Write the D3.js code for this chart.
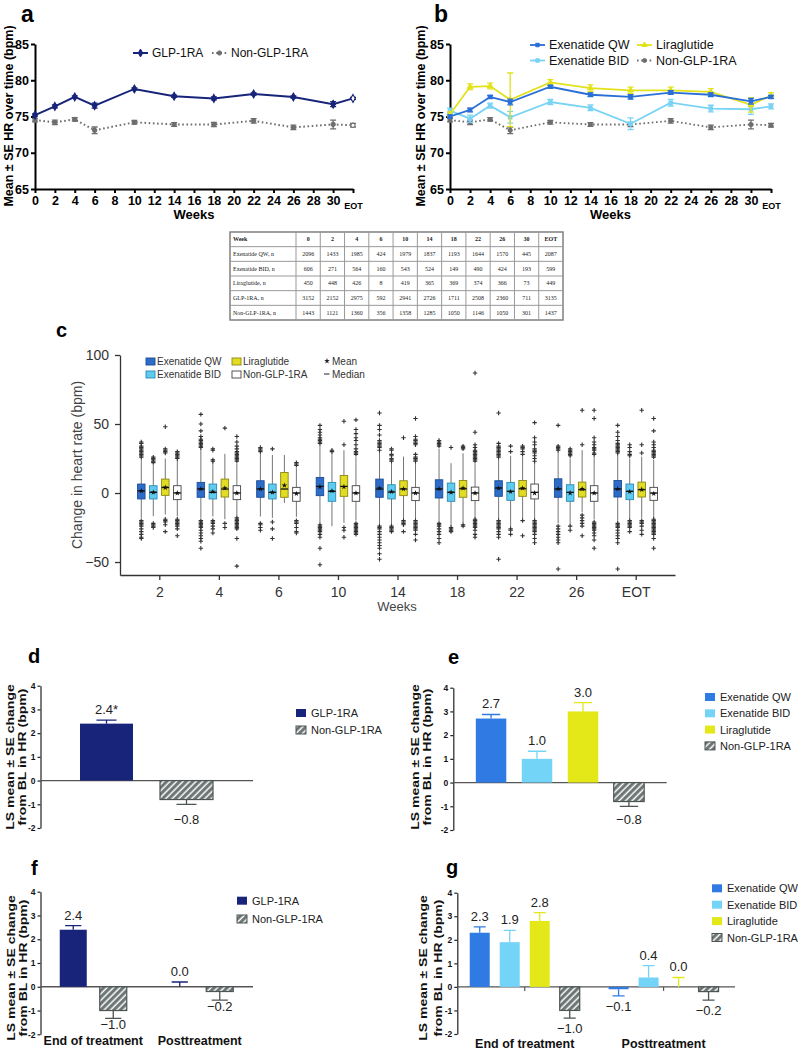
<!DOCTYPE html>
<html><head><meta charset="utf-8">
<script src="https://cdn.jsdelivr.net/npm/d3@7"></script>
<style>body{margin:0;background:#fff}svg{display:block}</style>
</head><body>
<svg id="chart" width="798" height="1051"></svg>
<script>
// ================= DATA =================
// Panels a & b : mean HR over time
const weekLabels = ["0","2","4","6","10","14","18","22","26","30","EOT"];
const glpMean  = [75.2,76.4,77.7,76.5,78.8,77.8,77.5,78.1,77.7,76.7,77.5];
const glpSE    = [0.15,0.2,0.15,0.35,0.15,0.15,0.2,0.15,0.15,0.35,0.15];
const nonMean  = [74.5,74.2,74.6,73.1,74.2,73.9,73.9,74.4,73.5,73.9,73.8];
const nonSE    = [0.25,0.3,0.25,0.45,0.25,0.25,0.3,0.3,0.3,0.6,0.25];
const qwMean   = [75.0,75.9,77.7,77.0,79.1,78.0,77.7,78.3,78.0,77.1,77.7];
const qwSE     = [0.2,0.25,0.2,0.4,0.2,0.25,0.3,0.25,0.25,0.4,0.2];
const bidMean  = [75.8,74.7,76.5,74.9,77.0,76.2,74.0,76.9,76.1,76.0,76.4];
const bidSE    = [0.35,0.5,0.35,0.8,0.35,0.4,0.8,0.45,0.45,0.7,0.35];
const liraMean = [75.3,79.1,79.2,77.3,79.7,78.9,78.6,78.6,78.4,76.6,77.9];
const liraSE   = [0.35,0.4,0.4,3.7,0.4,0.45,0.45,0.45,0.45,1.0,0.4];

// Table of n
const tableHeader = ["Week","0","2","4","6","10","14","18","22","26","30","EOT"];
const tableRowNames = ["Exenatide QW, n","Exenatide BID, n","Liraglutide, n","GLP-1RA, n","Non-GLP-1RA, n"];
const nQW   = [2096,1433,1985,424,1979,1837,1193,1644,1570,445,2087];
const nBID  = [606,271,564,160,543,524,149,490,424,193,599];
const nLira = [450,448,426,8,419,365,369,374,366,73,449];
const nGLP  = [3152,2152,2975,592,2941,2726,1711,2508,2360,711,3135];
const nNon  = [1443,1121,1360,356,1358,1285,1050,1146,1050,301,1437];

// Panel c : box plots  [lowWhisker, q1, median, q3, highWhisker, mean]
const boxWeeks  = ["2","4","6","10","14","18","22","26","EOT"];
const boxGroups = ["Exenatide QW","Exenatide BID","Liraglutide","Non-GLP-1RA"];
const boxQW = [[-18,-4.3,1.5,6.5,25,1.5],[-18,-3.1,2.9,7.7,32,3],[-17,-3.1,2.9,8.9,29,3],[-21.6,-1.9,4.8,11.3,35,4.5],
  [-23,-3.1,2.9,10.1,30,3.5],[-20.4,-3.6,2.9,9.6,32,3],[-19,-2.4,3.6,8.9,25,3.5],[-22,-3.1,2.9,10.3,30,3],[-21,-2.9,2.9,9.1,28,3]];
const outQW = [
  [26,27,28,29,30,31,32,33,34,36,37,-20,-21,-22,-23,-24,-26,-28,-30,-32,-33],
  [33,34,35,36,37,38,39,41,45,50,57,-20,-21,-22,-23,-24,-25,-27,-29,-31,-33,-35,-40],
  [30,31,32,33,-22,-23,-25,-27],
  [36,37,38,39,40,42,44,46,49,-23,-24,-25,-26,-27,-28,-30,-32,-40,-52],
  [31,33,34,35,36,37,38,42,46,49,58,-24,-25,-26,-28,-30,-32,-34,-36,-38,-40,-44,-48],
  [34,35,36,37,38,-22,-23,-24,-26,-28,-30,-33,-36],
  [26,27,28,29,30,31,32,33,34,36,58,-20,-21,-22,-23,-24,-25,-26,-28,-30,-32,-48],
  [31,32,33,34,49,-24,-26,-28,-30,-32,-34,-36,-55],
  [29,30,31,32,33,34,35,36,38,41,44,49,-22,-23,-24,-25,-27,-29,-31,-33,-36,-55]];
const boxBID = [[-16.8,-4.3,0.5,5.3,20.4,0.5],[-17,-4.3,0.5,6.5,22.8,1],[-18,-4.3,0.5,6.5,27.6,0.5],[-24,-6,1.2,7.7,29,1.5],
  [-23,-4.3,0.7,6,21.6,1],[-24,-6,0.5,7.2,21.6,0.5],[-25,-5.3,1.2,7.7,27,1],[-23,-6,0.5,6,25,0],[-19,-4.8,1.2,6.5,25,1]];
const outBID = [
  [22,23,24,25,26,-22,-23,-24,-25],
  [23,24,31,32,-20,-21,-22,-24,-26,-29],
  [32,-21,-26,-33],
  [30,31],
  [23,24,25,27,28,31,32,-24,-25,-26,-27,-28],
  [33,-25,-26,-27,-28],
  [30,34,-26,-27,-30],
  [27,28,29,30,31,32,-24,-27],
  [27,28,30,33,35,-20,-21,-22,-23,-24,-25,-28]];
const boxLira = [[-15.6,-1.7,4,10.1,25,4],[-19,-2.9,2.9,10.1,28.4,3.5],[-7.2,-3.1,2.9,14.9,27.6,5.5],[-21.6,-2.4,4.8,12.7,31,4.5],
  [-19,-1.9,2.9,8.9,26.4,3],[-21.6,-3.1,3.1,9.1,28.8,3.5],[-19,-2.4,3.1,9.1,26.4,3.5],[-14,-2.9,2.4,7.9,31,3],[-18,-2.9,2.4,7.9,26.4,2.5]];
const outLira = [
  [29,30,31,32,48,-19,-20,-21,-23,-28],
  [47,-22,-25],
  [],
  [35,52,-25,-27,-32],
  [40,-20,-21,-22,-23,-28],
  [32,33,34,-23,-24],
  [28,30,32,33,34,-20,-31],
  [35,60,-16,-18,-20,-22,-24,-31],
  [29,35,60,-20,-21,-22,-24,-27,-30]];
const boxNon = [[-17,-4.8,0,5.3,24,0],[-17,-4.8,0,5.3,21,0],[-17.3,-6,0,4.1,18,-0.5],[-20,-6,0,5.3,26,0],
  [-19,-5.5,0,4.1,22,0],[-18,-5.5,0,4.3,21,0],[-20,-4.3,0.5,6.5,22,0],[-19,-6,0,5.3,27,0],[-18,-5.3,0,4.1,24,-0.5]];
const outNon = [
  [25,26,27,28,29,30,-19,-20,-21,-22,-23,-24,-26,-31],
  [23,24,25,26,27,28,29,30,32,34,37,41,-18,-19,-20,-21,-22,-23,-24,-25,-26,-33,-53],
  [20,21,22,-20,-21,-22,-25,-28,-29],
  [28,29,30,32,35,38,40,43,46,53,-22,-23,-24,-25,-26,-27,-28,-29,-30],
  [23,24,25,26,28,35,36,37,38,39,41,54,-20,-21,-22,-23,-24,-25,-26,-27,-30,-34],
  [23,24,25,26,27,28,29,30,31,33,35,44,87,-19,-20,-21,-22,-23,-24,-25,-27,-30,-32],
  [23,25,27,29,30,31,32,35,37,40,51,-20,-21,-22,-23,-24,-25,-26,-27,-28,-30,-33,-36],
  [28,29,31,32,33,35,37,40,54,60,-21,-22,-23,-24,-25,-26,-27,-29,-31,-34,-40],
  [26,27,28,29,30,31,33,35,37,45,54,-19,-20,-21,-22,-23,-24,-25,-26,-27,-28,-29,-30,-33,-40]];

// Panel d
const dCats = ["GLP-1RA","Non-GLP-1RA"];
const dVals = [2.4,-0.8];
const dSE   = [0.15,0.2];
const dLabels = ["2.4*","\u22120.8"];
// Panel e
const eCats = ["Exenatide QW","Exenatide BID","Liraglutide","Non-GLP-1RA"];
const eVals = [2.7,1.0,3.0,-0.8];
const eSE   = [0.17,0.32,0.37,0.2];
const eLabels = ["2.7","1.0","3.0","\u22120.8"];
// Panel f
const periods = ["End of treatment","Posttreatment"];
const fCats = ["GLP-1RA","Non-GLP-1RA"];
const fVals = [[2.4,-1.0],[0.0,-0.2]];
const fSE   = [[0.17,0.33],[0.2,0.36]];
const fLabels = [["2.4","\u22121.0"],["0.0","\u22120.2"]];
// Panel g
const gCats = ["Exenatide QW","Exenatide BID","Liraglutide","Non-GLP-1RA"];
const gVals = [[2.3,1.9,2.8,-1.0],[-0.1,0.4,0.0,-0.2]];
const gSE   = [[0.25,0.5,0.35,0.33],[0.28,0.5,0.4,0.36]];
const gLabels = [["2.3","1.9","2.8","\u22121.0"],["\u22120.1","0.4","0.0","\u22120.2"]];

// ================= STYLE =================
const SANS = "'Liberation Sans', Arial, Helvetica, sans-serif";
const SERIF = "'Liberation Serif', 'Times New Roman', serif";
const C = {
  navy:"#17247a", qw:"#2f7be3", bid:"#74d4f8", lira:"#e4e818", non:"#6b7373", nonDark:"#4c5454",
  qwLine:"#2a6fd8", bidLine:"#7ad3f4", liraLine:"#e2e21c", nonLine:"#6e6e6e",
  boxQW:"#2d6cc8", boxBID:"#5ecbf0", boxLira:"#e2dc22", boxNon:"#ffffff"
};
const svg = d3.select("#chart").attr("font-family", SANS);

const defs = svg.append("defs");
const pat = defs.append("pattern").attr("id","hatch").attr("patternUnits","userSpaceOnUse")
  .attr("width",4.6).attr("height",4.6).attr("patternTransform","rotate(45)");
pat.append("rect").attr("width",4.6).attr("height",4.6).attr("fill",C.non);
pat.append("line").attr("x1",1.2).attr("x2",1.2).attr("y1",0).attr("y2",4.6).attr("stroke","#fff").attr("stroke-width",1.5);

function styleAxis(sel, o){
  o = Object.assign({stroke:"#000", sw:2, fs:12, fw:"bold", fill:"#000"}, o||{});
  sel.attr("font-family",null).attr("font-size",null);
  sel.selectAll("path.domain").attr("stroke",o.stroke).attr("stroke-width",o.sw);
  sel.selectAll(".tick line").attr("stroke",o.stroke).attr("stroke-width",o.sw);
  sel.selectAll(".tick text").attr("font-size",o.fs).attr("font-weight",o.fw).attr("fill",o.fill).attr("font-family",SANS);
}
function label(txt, x, y, size){
  svg.append("text").attr("x",x).attr("y",y).attr("font-size",size).attr("font-weight","bold").text(txt);
}
const weekNum = w => w==="EOT" ? 32 : +w;

// ================= PANELS a & b =================
function lineChart(cfg){
  const x = d3.scaleLinear().domain([0,32]).range(cfg.xr);
  const y = d3.scaleLinear().domain([65,85]).range([189,44]);
  const g = svg.append("g");
  const xAx = g.append("g").attr("transform",`translate(0,${y(65)})`)
    .call(d3.axisBottom(x).tickValues(d3.range(0,33,2)).tickSize(4).tickSizeOuter(0).tickPadding(3)
      .tickFormat(d => d===32 ? "EOT" : d));
  styleAxis(xAx,{fs:12.5});
  xAx.selectAll(".tick text").filter(d=>d===32).attr("font-size",9).attr("dy","1.4em");
  const yAx = g.append("g").attr("transform",`translate(${cfg.xr[0]},0)`)
    .call(d3.axisLeft(y).tickValues([65,70,75,80,85]).tickSize(4).tickSizeOuter(0).tickPadding(2));
  styleAxis(yAx,{fs:12.5});
  g.append("text").attr("x",(cfg.xr[0]+cfg.xr[1])/2).attr("y",219).attr("text-anchor","middle")
    .attr("font-size",13).attr("font-weight","bold").text("Weeks");
  g.append("text").attr("transform",`translate(${cfg.ylx},116) rotate(-90)`).attr("text-anchor","middle")
    .attr("font-size",12.5).attr("font-weight","bold").text("Mean \u00B1 SE HR over time (bpm)");

  cfg.series.forEach(s => {
    const pts = s.mean.map((m,i) => ({x:weekNum(weekLabels[i]), m, se:s.se[i], last:i===s.mean.length-1}));
    g.append("path").datum(pts).attr("d", d3.line().x(d=>x(d.x)).y(d=>y(d.m)))
      .attr("fill","none").attr("stroke",s.color).attr("stroke-width",s.sw).attr("stroke-dasharray",s.dash||null);
    g.selectAll(null).data(pts).join("path")
      .attr("d", d => `M${x(d.x)},${y(d.m-d.se)}V${y(d.m+d.se)}M${x(d.x)-3},${y(d.m-d.se)}h6M${x(d.x)-3},${y(d.m+d.se)}h6`)
      .attr("stroke",s.color).attr("stroke-width",1.3).attr("fill","none");
    g.selectAll(null).data(pts).join("path")
      .attr("transform", d => `translate(${x(d.x)},${y(d.m)})`)
      .attr("d", d3.symbol(s.sym, s.size))
      .attr("fill", d => (d.last && s.openLast) ? "#fff" : s.color)
      .attr("stroke", s.color).attr("stroke-width",1.1);
  });
  cfg.legend.forEach(l => {
    const s = l.s;
    g.append("line").attr("x1",l.x).attr("x2",l.x+15).attr("y1",l.y).attr("y2",l.y)
      .attr("stroke",s.color).attr("stroke-width",s.sw).attr("stroke-dasharray",s.dash||null);
    g.append("path").attr("transform",`translate(${l.x+7.5},${l.y})`).attr("d",d3.symbol(s.sym,s.size))
      .attr("fill",s.color).attr("stroke",s.color);
    g.append("text").attr("x",l.x+19).attr("y",l.y+4.3).attr("font-size",l.fs).attr("fill","#111").text(s.name);
  });
}

const sGLP  = {name:"GLP-1RA", mean:glpMean, se:glpSE, color:C.navy, sw:2, sym:d3.symbolDiamond, size:18, openLast:true};
const sNonA = {name:"Non-GLP-1RA", mean:nonMean, se:nonSE, color:C.nonLine, sw:2, dash:"1.6,2.6", sym:d3.symbolCircle, size:14, openLast:true};
lineChart({xr:[35,353], ylx:13, series:[sNonA, sGLP],
  legend:[{s:sGLP,x:133,y:53,fs:12},{s:sNonA,x:212,y:53,fs:12}]});

const sQW   = {name:"Exenatide QW", mean:qwMean, se:qwSE, color:C.qwLine, sw:1.8, sym:d3.symbolSquare, size:12};
const sBID  = {name:"Exenatide BID", mean:bidMean, se:bidSE, color:C.bidLine, sw:1.8, sym:d3.symbolSquare, size:12};
const sLira = {name:"Liraglutide", mean:liraMean, se:liraSE, color:C.liraLine, sw:1.8, sym:d3.symbolTriangle, size:12};
const sNonB = {name:"Non-GLP-1RA", mean:nonMean, se:nonSE, color:C.nonLine, sw:1.8, dash:"1.6,2.6", sym:d3.symbolCircle, size:12};
lineChart({xr:[450,771], ylx:425, series:[sNonB, sBID, sLira, sQW],
  legend:[{s:sQW,x:530,y:45,fs:12.5},{s:sLira,x:637,y:45,fs:12.5},{s:sBID,x:530,y:60.5,fs:12.5},{s:sNonB,x:637,y:60.5,fs:12.5}]});

label("a", 21, 22, 23);
label("b", 434, 22, 23);

// ================= TABLE =================
(function(){
  const x0=230, x1=563, y0=232, y1=320, firstW=66;
  const rows = [tableHeader.slice(1), nQW, nBID, nLira, nGLP, nNon];
  const names = [tableHeader[0]].concat(tableRowNames);
  const cx = d3.scaleBand().domain(d3.range(11)).range([x0+firstW, x1]);
  const ry = d3.scaleBand().domain(d3.range(6)).range([y0, y1]);
  const g = svg.append("g").attr("font-family",SERIF).attr("font-size",6).attr("fill","#222");
  g.append("rect").attr("x",x0).attr("y",y0).attr("width",x1-x0).attr("height",y1-y0)
    .attr("fill","#fff").attr("stroke","#777").attr("stroke-width",1.4);
  d3.range(1,6).forEach(i => g.append("line").attr("x1",x0).attr("x2",x1).attr("y1",ry(i)).attr("y2",ry(i))
    .attr("stroke","#999").attr("stroke-width",1));
  d3.range(0,11).forEach(i => g.append("line").attr("x1",cx(i)).attr("x2",cx(i)).attr("y1",y0).attr("y2",y1)
    .attr("stroke","#999").attr("stroke-width",1));
  names.forEach((n,r) => g.append("text").attr("x",x0+3).attr("y",ry(r)+ry.bandwidth()/2+2)
    .attr("font-weight", r===0 ? "bold" : null).text(n));
  rows.forEach((vals,r) => vals.forEach((v,i) => g.append("text")
    .attr("x",cx(i)+cx.bandwidth()/2).attr("y",ry(r)+ry.bandwidth()/2+2).attr("text-anchor","middle")
    .attr("font-weight", r===0 ? "bold" : null).text(v)));
})();

// ================= PANEL c =================
(function(){
  const xw = d3.scalePoint().domain(boxWeeks).range([120,675]).padding(0.66);
  const xg = d3.scaleBand().domain(boxGroups).range([-24,24]);
  const y = d3.scaleLinear().domain([-59.4,100]).range([575,355]);
  const g = svg.append("g");
  const xAx = g.append("g").attr("transform","translate(0,575)")
    .call(d3.axisBottom(xw).tickSize(5).tickSizeOuter(0).tickPadding(7));
  styleAxis(xAx,{stroke:"#333", sw:1.3, fs:14, fw:"normal", fill:"#333"});
  const yAx = g.append("g").attr("transform","translate(120,0)")
    .call(d3.axisLeft(y).tickValues([-50,0,50,100]).tickSize(5).tickSizeOuter(0).tickPadding(6)
      .tickFormat(d => d<0 ? "\u2212"+Math.abs(d) : d));
  styleAxis(yAx,{stroke:"#333", sw:1.3, fs:14, fw:"normal", fill:"#333"});
  g.append("text").attr("x",397).attr("y",611).attr("text-anchor","middle").attr("font-size",13).attr("fill","#444").text("Weeks");
  g.append("text").attr("transform","translate(82,465) rotate(-90)").attr("text-anchor","middle")
    .attr("font-size",14).attr("fill","#444").text("Change in heart rate (bpm)");

  const groups = [
    {name:boxGroups[0], st:boxQW, out:outQW, fill:C.boxQW, stroke:"#1d4d96"},
    {name:boxGroups[1], st:boxBID, out:outBID, fill:C.boxBID, stroke:"#2c8bb3"},
    {name:boxGroups[2], st:boxLira, out:outLira, fill:C.boxLira, stroke:"#8a8714"},
    {name:boxGroups[3], st:boxNon, out:outNon, fill:C.boxNon, stroke:"#444"}];
  const bw = 7.5;
  const plus = "M-2.2,0H2.2M0,-2.2V2.2";
  groups.forEach(gr => {
    boxWeeks.forEach((w,i) => {
      const cx = xw(w) + xg(gr.name) + xg.bandwidth()/2;
      const [lo,q1,med,q3,hi,mean] = gr.st[i];
      g.append("line").attr("x1",cx).attr("x2",cx).attr("y1",y(hi)).attr("y2",y(lo)).attr("stroke","#666").attr("stroke-width",0.9);
      g.append("rect").attr("x",cx-bw/2).attr("y",y(q3)).attr("width",bw).attr("height",y(q1)-y(q3))
        .attr("fill",gr.fill).attr("stroke",gr.stroke).attr("stroke-width",0.9);
      g.append("line").attr("x1",cx-bw/2).attr("x2",cx+bw/2).attr("y1",y(med)).attr("y2",y(med)).attr("stroke","#111").attr("stroke-width",1.3);
      g.append("path").attr("transform",`translate(${cx},${y(mean)})`).attr("d",d3.symbol(d3.symbolStar,10)).attr("fill","#111");
      gr.out[i].forEach(v => g.append("path").attr("transform",`translate(${cx},${y(v)})`).attr("d",plus)
        .attr("stroke","#333").attr("stroke-width",1.1));
    });
  });
  // legend
  const leg = [
    {name:boxGroups[0], fill:C.boxQW, stroke:"#1d4d96", x:146, y:358},
    {name:boxGroups[2], fill:C.boxLira, stroke:"#8a8714", x:232, y:358},
    {name:boxGroups[1], fill:C.boxBID, stroke:"#2c8bb3", x:146, y:371},
    {name:boxGroups[3], fill:"#fff", stroke:"#444", x:232, y:371}];
  leg.forEach(l => {
    g.append("rect").attr("x",l.x).attr("y",l.y).attr("width",9).attr("height",7).attr("fill",l.fill).attr("stroke",l.stroke).attr("stroke-width",0.9);
    g.append("text").attr("x",l.x+11).attr("y",l.y+7).attr("font-size",10).attr("fill","#333").text(l.name);
  });
  g.append("path").attr("transform","translate(327,361)").attr("d",d3.symbol(d3.symbolStar,10)).attr("fill","#222");
  g.append("text").attr("x",332).attr("y",365).attr("font-size",10).attr("fill","#333").text("Mean");
  g.append("line").attr("x1",324).attr("x2",329.5).attr("y1",374).attr("y2",374).attr("stroke","#222").attr("stroke-width",1);
  g.append("text").attr("x",332).attr("y",378).attr("font-size",10).attr("fill","#333").text("Median");
})();
label("c", 56, 337, 20);

// ================= BAR PANELS =================
const fillOf = n => n==="GLP-1RA" ? C.navy : n==="Exenatide QW" ? C.qw : n==="Exenatide BID" ? C.bid :
  n==="Liraglutide" ? C.lira : "url(#hatch)";
const lineOf = n => n==="Non-GLP-1RA" ? C.nonDark : fillOf(n);

function barFrame(o){
  const y = d3.scaleLinear().domain([-2,4]).range([o.yb,o.yt]);
  const g = svg.append("g");
  const yAx = g.append("g").attr("transform",`translate(${o.ax},0)`)
    .call(d3.axisLeft(y).tickValues(d3.range(-2,5)).tickSize(3).tickSizeOuter(0).tickPadding(2)
      .tickFormat(d => String(d)));
  styleAxis(yAx,{stroke:"#222", sw:1.2, fs:8.5, fw:"bold", fill:"#111"});
  g.append("line").attr("x1",o.ax).attr("x2",o.xe).attr("y1",y(0)).attr("y2",y(0)).attr("stroke","#555").attr("stroke-width",1.3);
  [["LS mean \u00B1 SE change", o.l1], ["from BL in HR (bpm)", o.l2]].forEach(([t,bx]) =>
    g.append("text").attr("transform",`translate(${bx},${o.lc}) rotate(-90) scale(1.22,1)`).attr("text-anchor","middle")
      .attr("font-size",11.5).attr("font-weight","bold").attr("fill","#111").text(t));
  return {g,y};
}
function drawBar(g, y, name, x0, w, v, se, lab, negOff){
  const top = Math.min(y(v), y(0)), h = Math.abs(y(v)-y(0));
  if (h>0.3) g.append("rect").attr("x",x0).attr("y",top).attr("width",w).attr("height",h)
    .attr("fill",fillOf(name)).attr("stroke", name==="Non-GLP-1RA" ? C.nonDark : "none").attr("stroke-width",1.2);
  const cx = x0 + w/2, end = v>=0 ? v+se : v-se, cw = Math.min(w*0.6, 20);
  g.append("path").attr("d",`M${cx},${y(v)}V${y(end)}M${cx-cw/2},${y(end)}h${cw}`)
    .attr("stroke",lineOf(name)).attr("stroke-width",1.3).attr("fill","none");
  g.append("text").attr("x",cx).attr("y", v>=0 ? y(end)-6 : y(end)+negOff).attr("text-anchor","middle")
    .attr("font-size",13).attr("fill","#222").text(lab);
}
function legendBox(g, names, x, y0, dy){
  names.forEach((n,i) => {
    g.append("rect").attr("x",x).attr("y",y0+i*dy-4).attr("width",10).attr("height",8)
      .attr("fill",fillOf(n)).attr("stroke", n==="Non-GLP-1RA" ? C.nonDark : "none").attr("stroke-width",1);
    g.append("text").attr("x",x+15).attr("y",y0+i*dy+4).attr("font-size",11).attr("fill","#222").text(n);
  });
}

// d
(function(){
  const {g,y} = barFrame({ax:40.5, xe:253, yt:685.7, yb:828, l1:13.5, l2:25.5, lc:757});
  const x = d3.scaleBand().domain(dCats).range([40,253]).paddingInner(0.3375).paddingOuter(0.5);
  dCats.forEach((c,i) => drawBar(g, y, c, x(c), x.bandwidth(), dVals[i], dSE[i], dLabels[i], 20));
  legendBox(g, dCats, 296, 713, 17);
})();
label("d", 28, 663, 20);

// e
(function(){
  const {g,y} = barFrame({ax:453.3, xe:666.7, yt:687.7, yb:830, l1:418.5, l2:430.5, lc:757});
  const x = d3.scaleBand().domain(eCats).range([453.3,666.7]).paddingInner(0.337).paddingOuter(0.49);
  eCats.forEach((c,i) => drawBar(g, y, c, x(c), x.bandwidth(), eVals[i], eSE[i], eLabels[i], 18));
  legendBox(g, eCats, 705, 697, 16.3);
})();
label("e", 448, 664, 20);

// f
(function(){
  const {g,y} = barFrame({ax:40.5, xe:253, yt:891.7, yb:1034.3, l1:15, l2:27, lc:968});
  const xp = d3.scaleBand().domain(periods).range([40,253]);
  const xs = d3.scaleBand().domain(fCats).range([-33.5,33.5]).paddingInner(0.325);
  periods.forEach((p,pi) => {
    const c0 = xp(p) + xp.bandwidth()/2;
    fCats.forEach((c,i) => drawBar(g, y, c, c0+xs(c), xs.bandwidth(), fVals[pi][i], fSE[pi][i], fLabels[pi][i], 11));
    g.append("text").attr("x",c0).attr("y",1045).attr("text-anchor","middle").attr("font-size",12.5)
      .attr("font-weight","bold").attr("fill","#111").text(p);
  });
  legendBox(g, fCats, 237, 900.7, 18.3);
})();
label("f", 31, 875, 20);

// g
(function(){
  const {g,y} = barFrame({ax:457.3, xe:735, yt:892.7, yb:1034, l1:427, l2:442, lc:968});
  const xp = d3.scaleBand().domain(periods).range([457.3,735]);
  const xs = d3.scaleBand().domain(gCats).range([-55,55]).paddingInner(0.333);
  periods.forEach((p,pi) => {
    const c0 = xp(p) + xp.bandwidth()/2 - 2;
    g.append("line").attr("x1",c0).attr("x2",c0).attr("y1",y(0)).attr("y2",y(0)+4).attr("stroke","#555").attr("stroke-width",1.2);
    gCats.forEach((c,i) => drawBar(g, y, c, c0+xs(c), xs.bandwidth(), gVals[pi][i], gSE[pi][i], gLabels[pi][i], 15));
    g.append("text").attr("x",c0).attr("y",1047.5).attr("text-anchor","middle").attr("font-size",12.5)
      .attr("font-weight","bold").attr("fill","#111").text(p);
  });
  legendBox(g, gCats, 712, 888.3, 16.4);
})();
label("g", 446, 874, 20);
</script>
</body></html>
